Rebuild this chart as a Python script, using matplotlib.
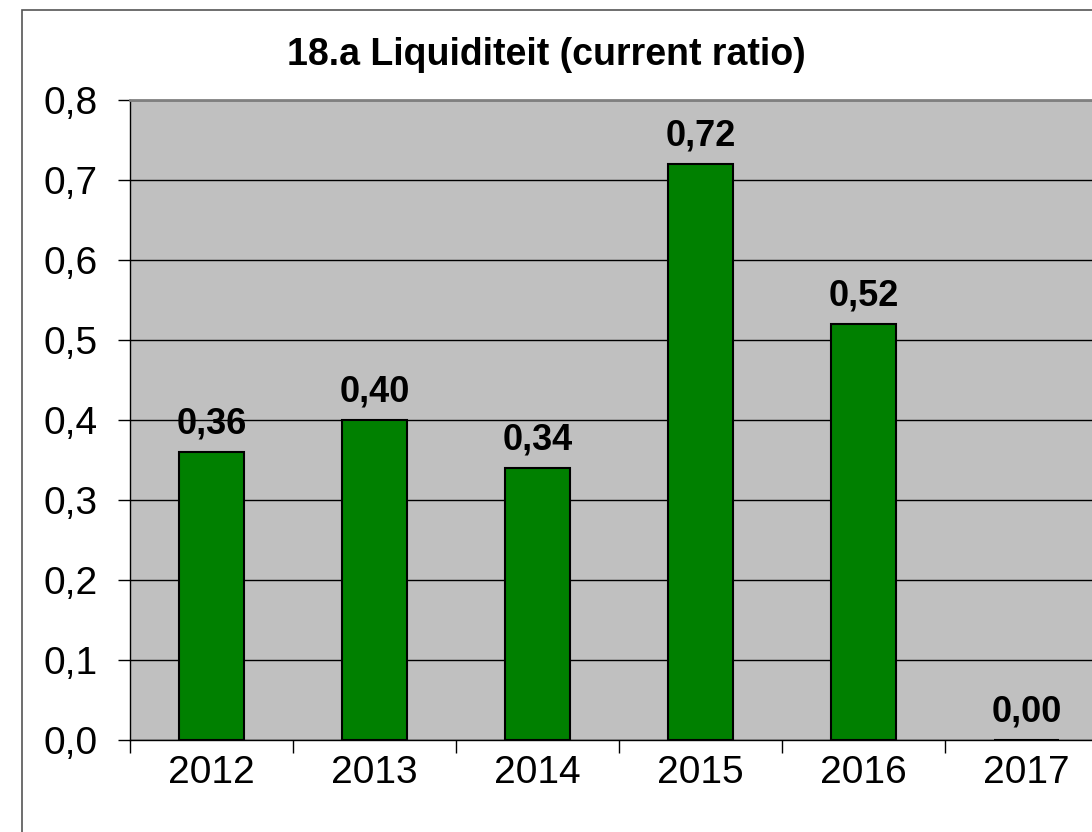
import matplotlib
matplotlib.use("Agg")
import matplotlib.pyplot as plt
from matplotlib.patches import Rectangle

years = ["2012", "2013", "2014", "2015", "2016", "2017"]
values = [0.36, 0.40, 0.34, 0.72, 0.52, 0.00]
yticks = [0.0, 0.1, 0.2, 0.3, 0.4, 0.5, 0.6, 0.7, 0.8]
title = "18.a Liquiditeit (current ratio)"

plt.rcParams['font.family'] = ['Liberation Sans', 'DejaVu Sans']

W, H = 1092, 832
fig = plt.figure(figsize=(W / 100, H / 100), dpi=100)

# outer chart border (extends past right/bottom edges)
fig.patches.append(Rectangle((22 / W, -0.1), 1.2, 1 - 10 / H + 0.1,
                             transform=fig.transFigure, fill=False,
                             edgecolor='#555555', linewidth=1.2))

left, right, bottom, top = 130, 1108, 740, 100
ax = fig.add_axes([left / W, 1 - bottom / H, (right - left) / W, (bottom - top) / H])
ax.set_facecolor('#c0c0c0')

x = list(range(len(years)))
ax.bar(x, values, width=0.4, color='#008000', edgecolor='black', linewidth=1.5, zorder=3)
for xi, v in zip(x, values):
    ax.annotate(f"{v:.2f}".replace('.', ','), (xi, v), xytext=(0, 13), textcoords='offset points',
                ha='center', va='baseline', fontsize=26, fontweight='bold', zorder=4)

ax.set_xlim(-0.5, len(years) - 0.5)
ax.set_ylim(0, 0.8)
ax.set_yticks(yticks)
ax.set_yticklabels([f"{t:.1f}".replace('.', ',') for t in yticks], fontsize=28)
ax.yaxis.grid(True, color='black', linewidth=1)
ax.set_axisbelow(True)
ax.set_xticks(x)
ax.set_xticklabels(years, fontsize=28)
ax.set_xticks([i - 0.5 for i in range(len(years) + 1)], minor=True)
ax.tick_params(axis='x', which='major', length=0, pad=11)
ax.tick_params(axis='x', which='minor', length=9, width=1, color='black', direction='out')
ax.tick_params(axis='y', length=9, width=1, direction='out', pad=14)

for s in ['left', 'bottom']:
    ax.spines[s].set_color('black')
    ax.spines[s].set_linewidth(1)
ax.spines['top'].set_color('#808080')
ax.spines['top'].set_linewidth(2)
ax.spines['right'].set_visible(False)

fig.text(546 / W, 1 - 55 / H, title, ha='center', va='center', fontsize=27, fontweight='bold')

fig.savefig("out.png", dpi=100)
